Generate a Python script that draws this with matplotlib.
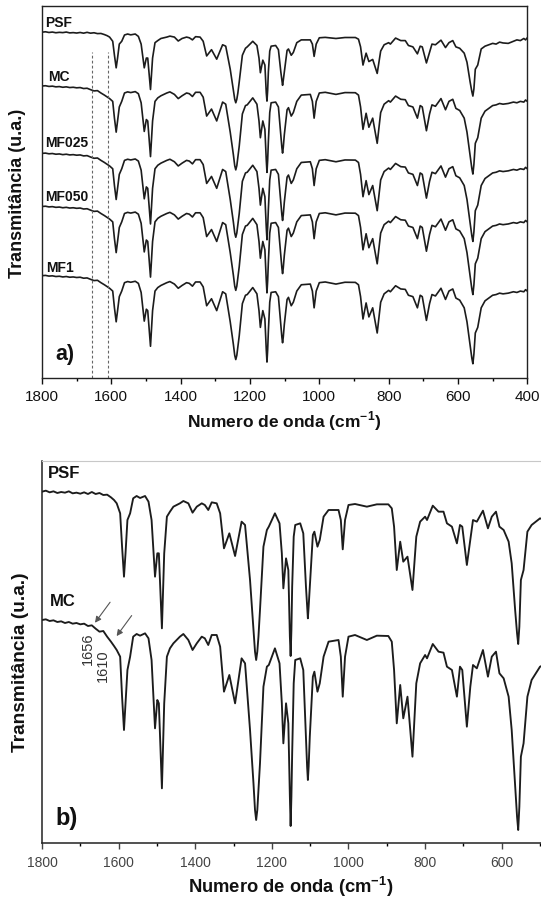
import matplotlib
matplotlib.use("Agg")
import matplotlib.pyplot as plt
from matplotlib.ticker import MultipleLocator

plt.rcParams['font.family'] = ['Liberation Sans', 'DejaVu Sans']
plt.rcParams['mathtext.fontset'] = 'custom'
plt.rcParams['mathtext.rm'] = 'Liberation Sans'
plt.rcParams['mathtext.bf'] = 'Liberation Sans:bold'

# ---------------- data ----------------
wavenumber = [1800, 1790, 1780, 1770, 1760, 1750, 1740, 1730, 1720, 1710,
              1700, 1690, 1680, 1670, 1660, 1650, 1640, 1630, 1620, 1612,
              1605, 1596, 1591, 1586, 1582, 1577, 1570, 1562, 1553, 1544,
              1531, 1522, 1514, 1505, 1499, 1495, 1491, 1487, 1484, 1481,
              1474, 1466, 1457, 1440, 1431, 1418, 1407, 1396, 1383, 1375,
              1366, 1357, 1344, 1335, 1325, 1311, 1296, 1279, 1270, 1257,
              1248, 1244, 1241, 1238, 1235, 1231, 1222, 1213, 1208, 1192,
              1180, 1174, 1170, 1163, 1157, 1153, 1151, 1149, 1147, 1143,
              1139, 1126, 1118, 1111, 1108, 1106, 1104, 1101, 1093, 1089,
              1081, 1075, 1065, 1052, 1026, 1020, 1015, 1009, 1000, 983,
              952, 926, 896, 887, 881, 874, 865, 857, 846, 833,
              823, 813, 800, 795, 780, 765, 752, 743, 730, 717,
              709, 703, 691, 682, 675, 665, 649, 636, 626, 615,
              606, 595, 582, 574, 565, 560, 557, 554, 550, 543,
              533, 522, 500, 490, 480, 470, 455, 440, 430, 420,
              410, 405, 400]

psf = [113.5, 113.8, 113.3, 113.6, 113.1, 113.4, 113.2, 113.6, 113.0, 113.2,
       112.9, 113.3, 112.8, 113.4, 112.8, 113.1, 112.5, 112.6, 111.8, 111.0,
       110.0, 107.0, 97.0, 88.0, 95.0, 105.0, 107.0, 111.5, 112.2, 111.6,
       112.2, 110.5, 105.0, 88.0, 95.0, 95.0, 84.0, 72.5, 84.0, 95.0,
       106.0, 107.5, 109.0, 110.0, 110.7, 110.0, 107.2, 109.0, 110.0, 109.5,
       108.0, 110.3, 110.0, 107.0, 96.5, 101.0, 94.2, 104.5, 103.5, 87.0,
       72.0, 65.5, 63.0, 65.5, 70.0, 78.0, 97.0, 102.0, 103.0, 107.0,
       104.0, 95.0, 84.5, 93.5, 90.0, 70.0, 64.2, 72.0, 85.0, 100.0,
       103.5, 104.0, 101.0, 85.0, 79.0, 75.5, 79.0, 85.0, 100.5, 101.5,
       97.0, 99.0, 106.0, 108.0, 108.0, 105.0, 96.2, 105.0, 109.5, 109.8,
       109.0, 109.7, 109.7, 108.5, 103.0, 90.0, 98.5, 92.5, 94.0, 84.0,
       100.0, 104.5, 106.0, 105.0, 109.3, 107.5, 107.5, 104.0, 103.0, 98.0,
       103.5, 103.0, 91.5, 99.0, 105.0, 104.5, 107.8, 102.5, 106.0, 107.5,
       103.0, 102.0, 98.5, 92.0, 78.0, 71.0, 67.8, 73.0, 87.0, 90.0,
       101.5, 103.5, 105.5, 105.0, 106.4, 105.8, 105.5, 107.0, 108.0, 107.5,
       109.0, 108.0, 109.5]

mc = [75.0, 75.2, 74.7, 74.9, 74.4, 74.6, 74.1, 74.4, 73.9, 74.1,
      73.7, 73.9, 73.2, 73.4, 72.4, 71.5, 71.7, 70.0, 68.5, 67.2,
      66.0, 64.0, 52.0, 42.0, 50.0, 60.0, 64.0, 70.0, 70.8, 70.3,
      71.0, 69.5, 63.0, 42.5, 51.0, 50.0, 37.0, 24.5, 37.0, 50.0,
      64.0, 66.5, 68.0, 70.0, 70.8, 69.0, 66.0, 68.0, 70.0, 69.5,
      67.5, 70.5, 70.5, 67.0, 53.5, 58.5, 50.0, 63.5, 62.0, 42.0,
      26.0, 18.0, 15.0, 18.0, 24.0, 32.0, 55.0, 61.0, 61.5, 66.5,
      62.0, 50.0, 38.0, 50.0, 44.0, 22.0, 13.2, 22.0, 35.0, 56.0,
      63.0, 63.5, 60.0, 40.0, 31.0, 27.0, 31.0, 40.0, 58.0, 59.5,
      53.5, 56.0, 64.0, 68.5, 69.0, 64.0, 52.0, 64.0, 70.0, 70.5,
      69.0, 70.3, 70.2, 68.5, 60.0, 44.0, 55.5, 45.5, 52.0, 34.0,
      56.0, 62.0, 64.5, 63.5, 67.8, 65.5, 65.2, 61.0, 60.0, 52.0,
      61.0, 60.0, 43.0, 55.0, 61.5, 60.5, 66.0, 58.0, 64.0, 65.5,
      59.0, 57.5, 52.0, 42.0, 25.0, 16.0, 12.0, 19.0, 34.0, 38.0,
      52.0, 57.0, 61.0, 61.5, 62.5, 62.0, 62.5, 63.5, 63.0, 64.0,
      63.5, 65.0, 64.0]

# panel a: samples, the spectrum each is drawn from, and vertical stacking shift
samples_a = ['PSF', 'MC', 'MF025', 'MF050', 'MF1']
spectra_a = [psf, mc, mc, mc, mc]
shift_a = [0.0, 0.0, -48.2, -86.2, -135.7]
marked_bands = [1656, 1610]

samples_b = ['PSF', 'MC']
spectra_b = [psf, mc]

# ---------------- figure ----------------
W, H = 541, 901
fig = plt.figure(figsize=(W / 100, H / 100), dpi=100)

def frac(x0, y0, x1, y1):
    return [x0 / W, 1 - y1 / H, (x1 - x0) / W, (y1 - y0) / H]

line_col = '#1c1c1c'

# ---- panel a ----
axa = fig.add_axes(frac(42, 5.5, 527.3, 378))
for spec, sh in zip(spectra_a, shift_a):
    axa.plot(wavenumber, [v + sh for v in spec], color=line_col, lw=1.2)
axa.set_xlim(1800, 400)
axa.set_ylim(-133.9, 132.6)
for b in marked_bands:
    axa.vlines(b, -133.9, 99, colors='#666666', linestyles=(0, (2.5, 2)), lw=0.8)
axa.set_yticks([])
axa.xaxis.set_major_locator(MultipleLocator(200))
axa.xaxis.set_minor_locator(MultipleLocator(100))
axa.tick_params(axis='x', which='major', direction='out', length=4.5, width=1.0,
                labelsize=11, colors='#111111', pad=4, top=False)
axa.tick_params(axis='x', which='minor', direction='out', length=2.2, width=1.0, top=False)
for s in axa.spines.values():
    s.set_linewidth(1.0)
    s.set_color('#222222')

lab_a = [(1791, 120.4), (1783, 81.1), (1791, 34.0), (1791, -4.6), (1787, -55.3)]
for name, (x, y) in zip(samples_a, lab_a):
    axa.text(x, y, name, fontsize=10, fontweight='bold', ha='left', va='center', color='#111111')
axa.text(1762, -117.4, 'a)', fontsize=15.5, fontweight='bold', ha='left', va='center', color='#111111')

fig.text(18 / W, 1 - 193 / H, 'Transmitância (u.a.)', rotation=90, fontsize=13,
         fontweight='bold', ha='center', va='center', color='#111111')
fig.text(284.5 / W, 1 - 421 / H, r'Numero de onda (cm$^{\mathbf{-1}}$)', fontsize=12.5,
         fontweight='bold', ha='center', va='center', color='#111111')

# ---- panel b ----
axb = fig.add_axes(frac(42, 461, 541, 843))
for spec in spectra_b:
    axb.plot(wavenumber, spec, color=line_col, lw=1.35)
axb.set_xlim(1800, 497.5)
axb.set_ylim(8.1, 122.7)
axb.set_yticks([])
axb.xaxis.set_major_locator(MultipleLocator(200))
axb.xaxis.set_minor_locator(MultipleLocator(100))
axb.tick_params(axis='x', which='major', direction='out', length=4.5, width=1.0,
                labelsize=10, colors='#444444', pad=5)
axb.tick_params(axis='x', which='minor', direction='out', length=2.2, width=1.0)
axb.spines['right'].set_visible(False)
axb.spines['top'].set_color('#c8c8c8')
axb.spines['top'].set_linewidth(0.8)
axb.spines['left'].set_linewidth(1.1)
axb.spines['bottom'].set_linewidth(1.1)
axb.spines['left'].set_color('#222222')
axb.spines['bottom'].set_color('#222222')

lab_b = [(1784, 118.8), (1779, 80.7)]
for name, (x, y) in zip(samples_b, lab_b):
    axb.text(x, y, name, fontsize=12, fontweight='bold', ha='left', va='center', color='#111111')
axb.text(1766, 15.3, 'b)', fontsize=17, fontweight='bold', ha='left', va='center', color='#111111')

axb.annotate('', xy=(1666, 73.5), xytext=(1618, 81),
             arrowprops=dict(arrowstyle='-|>', color='#555555', lw=0.8, mutation_scale=9))
axb.annotate('', xy=(1609.5, 69.5), xytext=(1561.7, 77),
             arrowprops=dict(arrowstyle='-|>', color='#555555', lw=0.8, mutation_scale=9))
axb.text(1681, 66.3, '1656', rotation=90, fontsize=10.5, ha='center', va='center', color='#333333')
axb.text(1642, 61.2, '1610', rotation=90, fontsize=10.5, ha='center', va='center', color='#333333')

fig.text(21 / W, 1 - 662 / H, 'Transmitância (u.a.)', rotation=90, fontsize=13.8,
         fontweight='bold', ha='center', va='center', color='#111111')
fig.text(291 / W, 1 - 887 / H, r'Numero de onda (cm$^{\mathbf{-1}}$)', fontsize=13.2,
         fontweight='bold', ha='center', va='center', color='#111111')

fig.savefig('out.png', dpi=100)
